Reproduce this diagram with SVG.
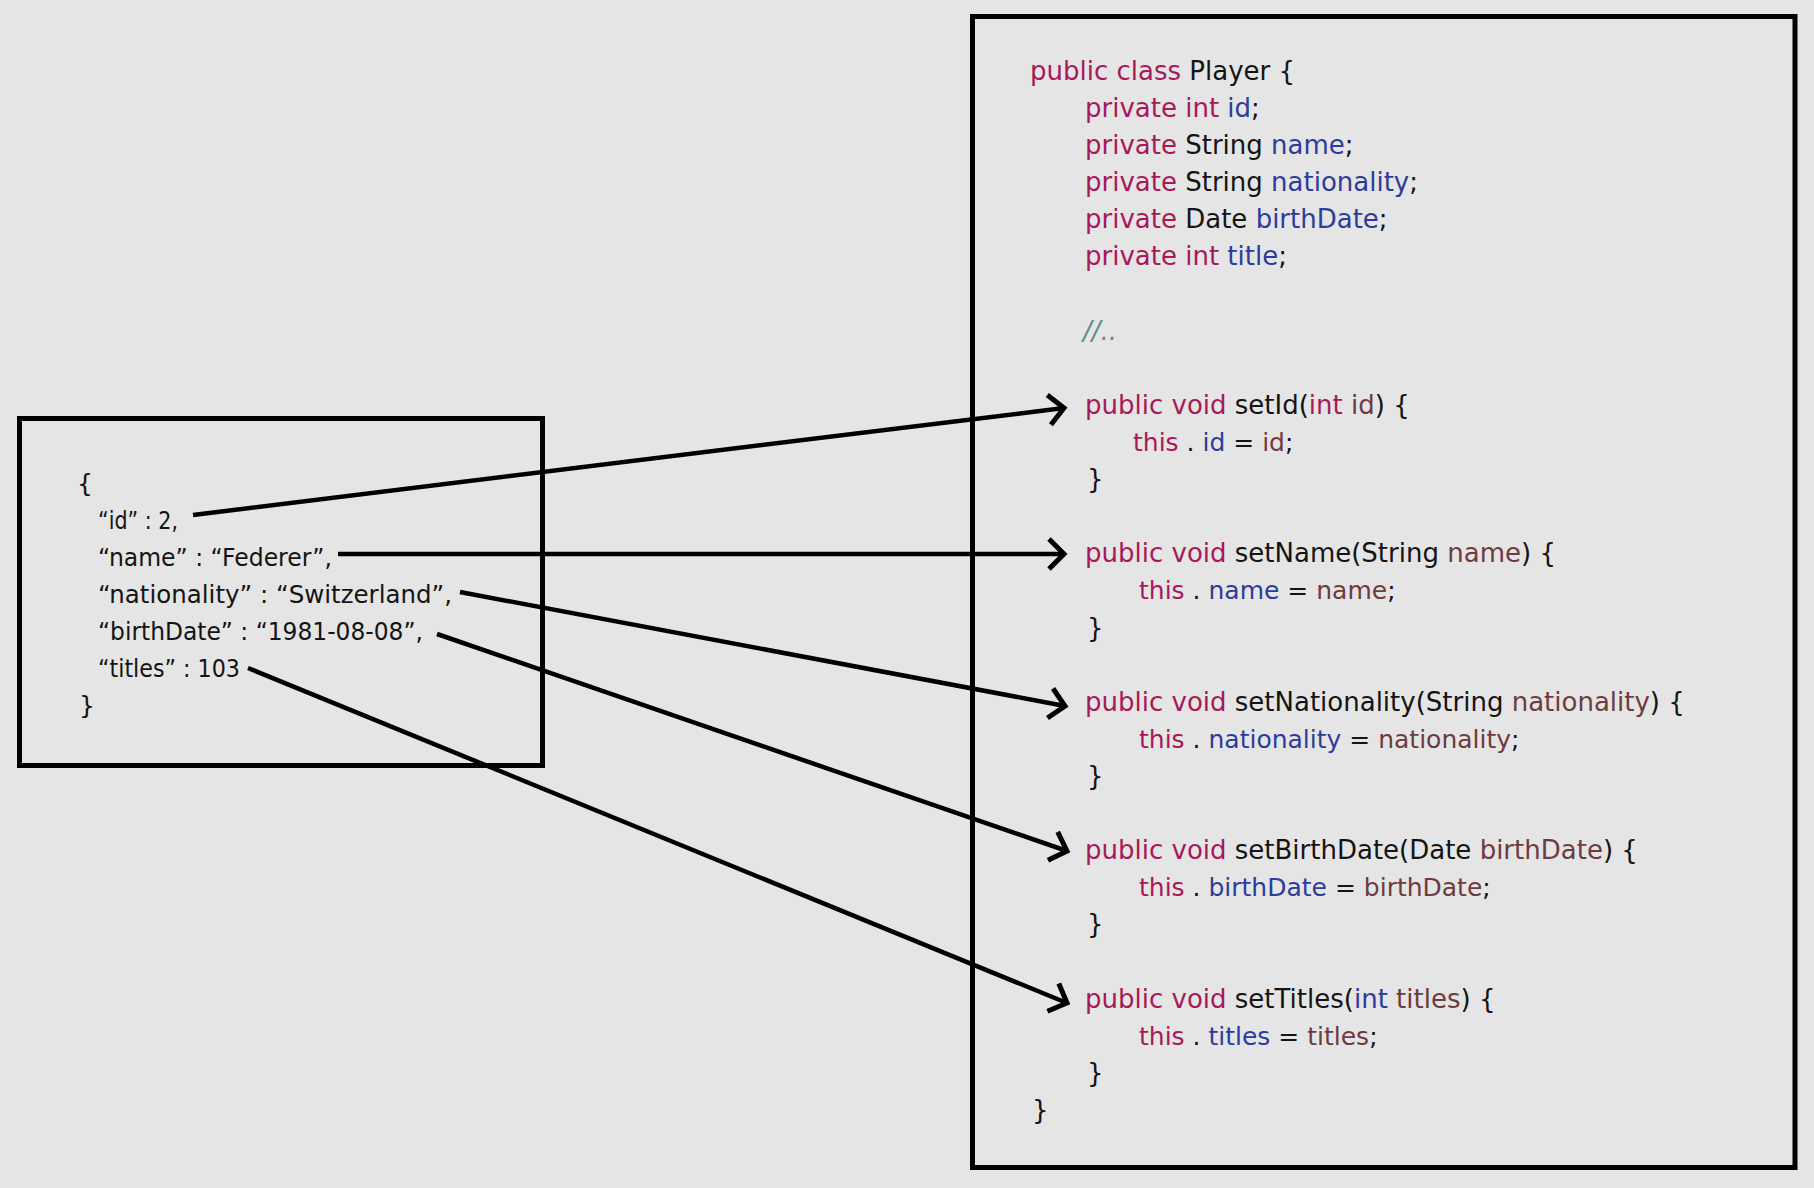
<svg xmlns="http://www.w3.org/2000/svg" width="1814" height="1188" viewBox="0 0 1814 1188">
  <style>
    text { font-family: "DejaVu Sans", "Liberation Sans", sans-serif; font-size: 26px; fill: #141414; }
    .json { font-size: 25px; }
    .body { font-size: 25px; }
    .kw { fill: #a8195a; }
    .fd { fill: #2d3c9b; }
    .pm { fill: #6d3b40; }
    .cm { fill: #5f8f86; font-style: italic; }
    .box { fill: none; stroke: #000; stroke-width: 5; }
    .link { stroke: #000; stroke-width: 4.5; fill: none; marker-end: url(#chevron); }
  </style>
  <defs>
    <marker id="chevron" markerUnits="userSpaceOnUse" viewBox="-20 -20 26 40" refX="0" refY="0" markerWidth="26" markerHeight="40" orient="auto" overflow="visible">
      <path d="M-15,-15 L0,0 L-15,15" fill="none" stroke="#000" stroke-width="5" stroke-linejoin="miter"/>
    </marker>
  </defs>

  <rect width="1814" height="1188" fill="#e5e5e5"/>

  <!-- JSON document -->
  <g id="json">
    <rect class="box" x="19.5" y="418.5" width="523" height="347"/>
    <text class="json" x="77" y="492">{</text>
    <text class="json" x="98" y="529" textLength="80" lengthAdjust="spacingAndGlyphs">“id” : 2,</text>
    <text class="json" x="98" y="566" textLength="234" lengthAdjust="spacingAndGlyphs">“name” : “Federer”,</text>
    <text class="json" x="98" y="603" textLength="354" lengthAdjust="spacingAndGlyphs">“nationality” : “Switzerland”,</text>
    <text class="json" x="98" y="640" textLength="325" lengthAdjust="spacingAndGlyphs">“birthDate” : “1981-08-08”,</text>
    <text class="json" x="98" y="677" textLength="142" lengthAdjust="spacingAndGlyphs">“titles” : 103</text>
    <text class="json" x="79" y="714">}</text>
  </g>

  <!-- Java class -->
  <g id="player-class">
    <rect class="box" x="972.5" y="16.5" width="822.5" height="1151"/>
    <text x="1030" y="80"><tspan class="kw">public class</tspan> Player  {</text>
    <text x="1085" y="117"><tspan class="kw">private int</tspan> <tspan class="fd">id</tspan>;</text>
    <text x="1085" y="154"><tspan class="kw">private</tspan> String <tspan class="fd">name</tspan>;</text>
    <text x="1085" y="191"><tspan class="kw">private</tspan> String <tspan class="fd">nationality</tspan>;</text>
    <text x="1085" y="228"><tspan class="kw">private</tspan> Date <tspan class="fd">birthDate</tspan>;</text>
    <text x="1085" y="265"><tspan class="kw">private int</tspan> <tspan class="fd">title</tspan>;</text>
    <text class="cm" x="1083" y="340">//..</text>
  </g>

  <g id="setId">
    <text x="1085" y="414"><tspan class="kw">public void</tspan> setId(<tspan class="kw">int</tspan> <tspan class="pm">id</tspan>) {</text>
    <text class="body" x="1133" y="451"><tspan class="kw">this</tspan> . <tspan class="fd">id</tspan> = <tspan class="pm">id</tspan>;</text>
    <text x="1087" y="488">}</text>
  </g>

  <g id="setName">
    <text x="1085" y="562"><tspan class="kw">public void</tspan> setName(String <tspan class="pm">name</tspan>) {</text>
    <text class="body" x="1139" y="599"><tspan class="kw">this</tspan> . <tspan class="fd">name</tspan> = <tspan class="pm">name</tspan>;</text>
    <text x="1087" y="637">}</text>
  </g>

  <g id="setNationality">
    <text x="1085" y="711"><tspan class="kw">public void</tspan> setNationality(String <tspan class="pm">nationality</tspan>) {</text>
    <text class="body" x="1139" y="748"><tspan class="kw">this</tspan> . <tspan class="fd">nationality</tspan> = <tspan class="pm">nationality</tspan>;</text>
    <text x="1087" y="785">}</text>
  </g>

  <g id="setBirthDate">
    <text x="1085" y="859"><tspan class="kw">public void</tspan> setBirthDate(Date <tspan class="pm">birthDate</tspan>) {</text>
    <text class="body" x="1139" y="896"><tspan class="kw">this</tspan> . <tspan class="fd">birthDate</tspan> = <tspan class="pm">birthDate</tspan>;</text>
    <text x="1087" y="933">}</text>
  </g>

  <g id="setTitles">
    <text x="1085" y="1008"><tspan class="kw">public void</tspan> setTitles(<tspan class="fd">int</tspan> <tspan class="pm">titles</tspan>) {</text>
    <text class="body" x="1139" y="1045"><tspan class="kw">this</tspan> . <tspan class="fd">titles</tspan> = <tspan class="pm">titles</tspan>;</text>
    <text x="1087" y="1082">}</text>
  </g>

  <text x="1032" y="1119">}</text>

  <!-- property-to-setter links -->
  <g id="links">
    <line class="link" x1="193" y1="515" x2="1064" y2="408"/>
    <line class="link" x1="338" y1="554" x2="1064" y2="554"/>
    <line class="link" x1="460" y1="592" x2="1065" y2="706"/>
    <line class="link" x1="437" y1="634" x2="1067" y2="851"/>
    <line class="link" x1="248" y1="668" x2="1067" y2="1003"/>
  </g>
</svg>
